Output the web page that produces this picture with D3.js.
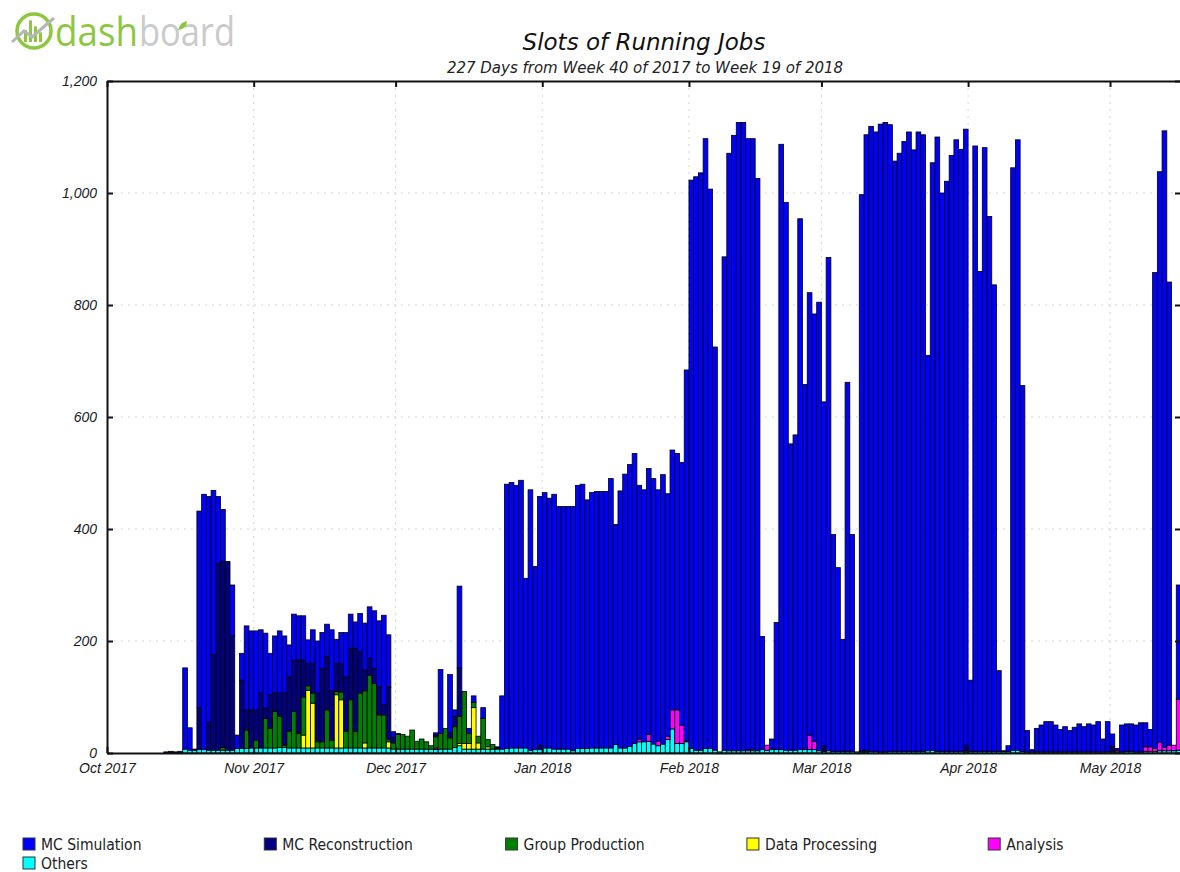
<!DOCTYPE html>
<html>
<head>
<meta charset="utf-8">
<script src="https://cdn.jsdelivr.net/npm/d3@7"></script>
<style>
  body { margin: 0; background: #fff; }
  svg { display: block; font-family: "DejaVu Sans", sans-serif; }
  .tick text { font-style: italic; font-size: 14px; fill: #1a1a1a; }
</style>
</head>
<body>
<svg id="chart" width="1180" height="872"></svg>
<script>
// ---- data (one value per day, starting Oct 1 2017) ----
const startDay = "2017-10-01";
const dayCount = 227;
const titleText = "Slots of Running Jobs";
const subtitleText = "227 Days from Week 40 of 2017 to Week 19 of 2018";
const seriesNames = ["MC Simulation", "MC Reconstruction", "Group Production", "Data Processing", "Analysis", "Others"];
const seriesColors = ["#0000ff", "#000080", "#008000", "#ffff00", "#ff00ff", "#00ffff"];
const yTicks = [0, 200, 400, 600, 800, 1000, 1200];

const mcSimulation = [
  0,0,0,0,0,0,0,0,0,0,
  0,0,0,0,0,0,145,40,0,351,
  456,403,293,119,93,0,90,24,48,150,
  141,141,113,134,74,102,111,102,57,82,
  79,79,42,60,93,64,58,108,43,55,
  79,61,47,68,84,92,103,118,159,93,
  10,2,0,0,0,0,0,0,0,4,
  114,0,103,12,146,0,9,12,0,19,
  0,0,0,95,472,474,469,478,303,465,
  327,444,456,446,455,433,433,433,436,470,
  472,444,456,458,458,458,481,393,459,489,
  503,518,454,450,475,474,449,481,433,464,
  458,470,662,1015,1024,1031,1089,999,720,0,
  881,1067,1099,1122,1122,1091,1090,1022,202,0,
  17,227,1081,978,547,563,948,652,790,763,
  801,614,881,387,328,200,659,387,0,993,
  1100,1116,1106,1121,1124,1119,1054,1068,1089,1106,
  1074,1106,1101,706,1049,1097,997,1018,1064,1092,
  1075,1100,127,1081,857,1078,955,833,144,1,
  10,1040,1090,653,38,4,42,48,54,54,
  48,40,45,38,44,50,45,50,48,54,
  23,54,22,3,48,49,49,48,52,43,
  31,850,1019,1101,827,0,204
];
const mcReconstruction = [
  0,0,0,0,0,0,0,0,0,0,
  0,0,2,3,2,3,0,0,2,75,
  0,50,171,334,332,337,205,0,122,36,
  68,54,98,18,60,33,42,93,97,92,
  131,66,40,53,87,131,95,89,50,51,
  97,92,148,74,37,30,27,50,19,94,
  10,0,0,0,0,0,0,0,0,3,
  0,0,10,18,87,0,0,0,0,0,
  0,0,2,0,0,0,0,0,0,0,
  0,8,0,0,0,0,0,0,0,0,
  0,0,0,0,0,0,0,0,0,0,
  0,0,0,0,0,0,0,0,0,0,
  0,0,2,0,0,0,0,0,0,0,
  0,0,0,0,0,0,0,0,0,0,
  0,0,0,0,0,0,0,0,0,0,
  0,10,0,0,0,0,0,0,0,2,
  0,0,0,0,0,0,0,0,0,0,
  0,0,0,0,0,0,0,0,0,0,
  0,10,0,0,0,0,0,0,0,0,
  0,0,0,0,0,0,0,0,0,0,
  0,0,0,0,0,0,0,0,0,0,
  0,0,10,0,0,0,0,0,0,0,
  0,0,0,0,0,0,0
];
const groupProduction = [
  0,0,0,0,0,0,0,0,0,0,
  0,0,0,0,0,0,0,0,0,0,
  0,0,0,0,5,0,0,0,0,33,
  0,14,0,53,35,65,55,4,30,65,
  26,68,8,18,11,11,68,14,6,14,
  30,86,30,98,93,130,115,59,59,4,
  11,26,26,23,34,14,18,13,6,20,
  28,37,20,37,48,93,18,9,12,55,
  13,8,2,0,0,0,0,0,0,0,
  0,0,0,0,0,0,0,0,0,0,
  0,0,0,0,0,0,0,0,0,0,
  0,0,0,0,0,0,0,0,0,0,
  0,0,0,0,0,0,0,0,0,0,
  0,0,0,0,0,0,0,0,0,0,
  0,0,0,0,0,0,0,0,0,0,
  0,0,0,0,0,0,0,0,0,0,
  2,0,0,0,0,0,0,0,0,0,
  0,0,0,0,0,0,0,0,0,0,
  0,0,0,0,0,0,0,0,0,0,
  0,0,0,0,0,0,0,0,0,0,
  0,0,0,0,0,0,0,0,0,0,
  0,0,0,0,0,0,0,0,0,0,
  0,0,0,0,0,0,0
];
const dataProcessing = [
  0,0,0,0,0,0,0,0,0,0,
  0,0,0,0,0,0,0,0,0,0,
  0,0,0,0,0,0,0,0,0,0,
  0,0,0,0,0,0,0,0,0,0,
  0,23,103,80,0,0,0,0,95,86,
  0,0,0,0,9,0,0,0,0,11,
  0,0,0,0,0,0,0,0,0,0,
  0,0,0,0,4,10,10,74,11,0,
  4,0,0,0,0,0,0,0,0,0,
  0,0,0,0,0,0,0,0,0,0,
  0,0,0,0,0,0,0,0,0,0,
  0,0,0,0,0,0,0,0,0,0,
  0,0,0,0,0,0,0,0,0,0,
  0,0,0,0,0,0,0,0,0,0,
  0,0,0,0,0,0,0,0,0,0,
  0,0,0,0,0,0,0,0,0,0,
  0,0,0,0,0,0,0,0,0,0,
  0,0,0,0,0,0,0,0,0,0,
  0,0,0,0,0,0,0,0,0,0,
  0,0,0,0,0,0,0,0,0,0,
  0,0,0,0,0,0,0,0,0,0,
  0,0,0,0,0,0,0,0,0,0,
  0,0,0,0,0,0,0
];
const analysis = [
  0,0,0,0,0,0,0,0,0,0,
  0,0,0,0,0,0,0,0,0,0,
  0,0,0,0,0,0,0,0,0,0,
  0,0,0,0,0,0,0,0,0,0,
  0,0,0,0,0,0,0,0,0,0,
  0,0,0,0,0,0,0,0,0,0,
  0,0,0,0,0,0,0,0,0,3,
  0,0,0,0,0,0,0,0,0,0,
  0,0,0,0,0,0,0,0,0,0,
  0,0,0,0,0,0,0,0,0,0,
  0,0,0,0,0,0,0,0,0,0,
  0,0,4,0,12,0,8,0,6,34,
  60,32,0,0,0,0,0,0,0,0,
  0,0,0,0,0,2,3,0,0,9,
  2,0,0,0,0,0,0,0,26,15,
  0,0,0,0,0,0,0,0,0,0,
  0,0,0,0,0,0,0,0,0,0,
  0,0,0,0,0,0,0,0,0,0,
  0,2,0,0,0,0,0,0,0,0,
  0,0,0,0,0,0,0,0,0,0,
  0,0,0,0,0,0,0,0,0,0,
  0,0,0,3,0,0,0,0,0,8,
  8,5,15,6,10,10,91
];
const others = [
  0,0,0,0,0,0,0,0,0,0,
  0,0,0,0,0,0,7,5,5,6,
  6,5,5,5,5,5,5,8,8,8,
  9,9,9,9,9,9,10,10,9,9,
  9,9,9,9,9,9,9,9,9,9,
  9,9,9,9,9,9,9,9,9,9,
  7,7,7,7,7,7,7,7,7,6,
  7,7,7,10,13,7,7,7,7,7,
  7,7,7,7,8,9,9,9,9,5,
  6,6,9,9,7,7,7,7,4,8,
  8,8,9,9,9,9,9,15,9,9,
  12,17,20,20,21,16,13,16,24,43,
  17,17,20,8,5,5,8,8,5,2,
  5,4,4,4,4,4,4,4,6,5,
  6,6,6,5,5,5,6,6,6,6,
  4,3,4,3,3,3,3,3,2,2,
  2,3,3,2,2,3,3,3,3,3,
  3,3,3,4,5,3,3,3,3,3,
  3,2,3,3,3,3,3,3,3,3,
  3,5,5,3,2,2,2,2,2,2,
  2,2,2,2,2,2,2,2,2,2,
  2,2,2,2,2,3,3,2,2,3,
  3,3,4,4,4,4,5
];

// ---- build table ----
const seriesValues = [mcSimulation, mcReconstruction, groupProduction, dataProcessing, analysis, others];
const start = d3.timeParse("%Y-%m-%d")(startDay);
const rows = d3.range(dayCount).map(i => {
  const r = { date: d3.timeDay.offset(start, i) };
  seriesNames.forEach((n, j) => r[n] = seriesValues[j][i]);
  return r;
});
const color = d3.scaleOrdinal().domain(seriesNames).range(seriesColors);

const svg = d3.select("#chart");
const margin = { left: 107, right: 1181, top: 81, bottom: 753 };

const x = d3.scaleTime()
  .domain([start, d3.timeDay.offset(start, dayCount)])
  .range([margin.left, margin.right]);
const y = d3.scaleLinear().domain([0, 1200]).range([margin.bottom, margin.top]);
const months = x.ticks(d3.timeMonth.every(1));

// ---- logo ----
const logo = svg.append("g");
logo.append("circle").attr("cx", 34).attr("cy", 31).attr("r", 17)
  .attr("fill", "none").attr("stroke", "#8dc63f").attr("stroke-width", 3.5);
[[24, 10], [29, 18], [34, 13], [39, 8]].forEach(b => {
  logo.append("rect").attr("x", b[0]).attr("y", 42 - b[1] * 1.2).attr("width", 3).attr("height", b[1] * 1.2)
    .attr("fill", "#8dc63f");
});
logo.append("polyline").attr("points", "12,42 24,31 32,37 54,18")
  .attr("fill", "none").attr("stroke", "#b5b5b5").attr("stroke-width", 3);
logo.append("text").attr("x", 55).attr("y", 46).text("dash")
  .attr("font-family", "Open Sans").attr("font-size", 40).attr("fill", "#8dc63f")
  .attr("textLength", 83).attr("lengthAdjust", "spacingAndGlyphs");
logo.append("text").attr("x", 139).attr("y", 46).text("board")
  .attr("font-family", "Open Sans").attr("font-size", 40).attr("fill", "#cacaca")
  .attr("textLength", 96).attr("lengthAdjust", "spacingAndGlyphs");
logo.append("path").attr("d", "M178,30 q2,-8 9,-9 q0,8 -9,9 z").attr("fill", "#8dc63f");

// ---- titles ----
svg.append("text").attr("x", 644).attr("y", 50).attr("text-anchor", "middle")
  .attr("font-size", 23).attr("font-style", "italic").attr("fill", "#111").text(titleText);
svg.append("text").attr("x", 645).attr("y", 73).attr("text-anchor", "middle")
  .attr("font-size", 15).attr("font-style", "italic").attr("fill", "#222").text(subtitleText);

// ---- grid ----
const grid = svg.append("g").attr("stroke", "#d4d4d4").attr("stroke-dasharray", "2,5");
grid.selectAll(".gy").data(yTicks.slice(1, -1)).join("line")
  .attr("x1", margin.left).attr("x2", margin.right)
  .attr("y1", d => y(d)).attr("y2", d => y(d));
grid.selectAll(".gx").data(months.slice(1)).join("line")
  .attr("x1", d => x(d)).attr("x2", d => x(d))
  .attr("y1", margin.top).attr("y2", margin.bottom);

// ---- stacked bars (bottom to top: Others ... MC Simulation) ----
const stackKeys = seriesNames.slice().reverse();
const layers = d3.stack().keys(stackKeys)(rows);
svg.append("g").selectAll("g").data(layers).join("g")
  .attr("fill", d => color(d.key))
  .selectAll("rect").data(d => d.filter(p => p[1] - p[0] > 0)).join("rect")
  .attr("x", d => x(d.data.date))
  .attr("width", d => x(d3.timeDay.offset(d.data.date, 1)) - x(d.data.date))
  .attr("y", d => y(d[1]))
  .attr("height", d => y(d[0]) - y(d[1]))
  .attr("stroke", "#000").attr("stroke-width", 0.8);

// ---- axes / frame ----
function styleAxis(g) {
  g.select(".domain").attr("stroke", "#111").attr("stroke-width", 2);
  g.selectAll(".tick line").attr("stroke", "#111").attr("stroke-width", 2);
}
svg.append("g").attr("transform", `translate(${margin.left},0)`)
  .call(d3.axisLeft(y).tickValues(yTicks).tickFormat(d3.format(",")).tickSizeInner(-6).tickSizeOuter(0).tickPadding(10))
  .call(styleAxis);
svg.append("g").attr("transform", `translate(${margin.right},0)`)
  .call(d3.axisRight(y).tickValues(yTicks).tickFormat("").tickSizeInner(-6).tickSizeOuter(0))
  .call(styleAxis);
svg.append("g").attr("transform", `translate(0,${margin.bottom})`)
  .call(d3.axisBottom(x).tickValues(months).tickFormat(d3.timeFormat("%b %Y")).tickSizeInner(-6).tickSizeOuter(0).tickPadding(10))
  .call(styleAxis);
svg.append("g").attr("transform", `translate(0,${margin.top})`)
  .call(d3.axisTop(x).tickValues(months).tickFormat("").tickSizeInner(-6).tickSizeOuter(0))
  .call(styleAxis);
svg.selectAll(".tick text").attr("font-family", null);

// ---- legend ----
const legend = svg.append("g");
seriesNames.forEach((n, i) => {
  const col = i % 5, row = Math.floor(i / 5);
  const lx = 23 + col * 241.3, ly = 838 + row * 19;
  legend.append("rect").attr("x", lx).attr("y", ly).attr("width", 12).attr("height", 12)
    .attr("fill", color(n)).attr("stroke", "#333").attr("stroke-width", 1);
  legend.append("text").attr("x", lx + 18).attr("y", ly + 11.5)
    .attr("font-size", 15.5).attr("font-stretch", "condensed")
    .attr("font-family", "'DejaVu Sans Condensed', 'DejaVu Sans'")
    .attr("fill", "#222").text(n);
});
</script>
</body>
</html>
